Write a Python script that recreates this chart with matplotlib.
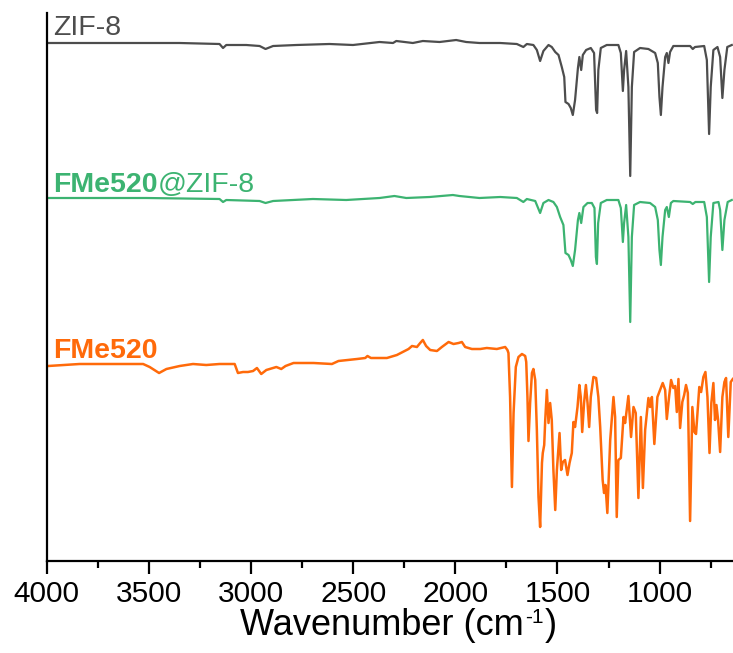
import matplotlib
matplotlib.use("Agg")
import matplotlib.pyplot as plt
from matplotlib.ticker import MultipleLocator

plt.rcParams['font.family'] = ['Liberation Sans', 'DejaVu Sans']

# ---------------- data ----------------
zif_wn = [3993, 3675, 3349, 3154, 3137, 3121, 3023, 2958, 2929, 2892, 2778, 2616, 2501,
          2371, 2305, 2289, 2208, 2159, 2077, 1996, 1947, 1882, 1780, 1699, 1667, 1650,
          1618, 1601, 1585, 1569, 1544, 1528, 1511, 1495, 1479, 1467, 1461, 1446, 1435,
          1425, 1414, 1400, 1393, 1384, 1376, 1360, 1337, 1321, 1311, 1306, 1300, 1288,
          1259, 1202, 1190, 1180, 1174, 1164, 1153, 1144, 1136, 1125, 1096, 1055, 1022,
          1009, 1001, 994, 986, 973, 965, 957, 949, 933, 851, 838, 827, 782, 769, 758,
          750, 737, 717, 704, 693, 683, 669, 647]
zif_t = [5.15, 5.15, 5.15, 5.14, 5.10, 5.13, 5.13, 5.12, 5.09, 5.12, 5.13, 5.14, 5.13,
         5.16, 5.15, 5.17, 5.15, 5.17, 5.16, 5.18, 5.16, 5.15, 5.15, 5.14, 5.11, 5.14,
         5.13, 5.08, 4.97, 5.07, 5.13, 5.11, 5.06, 5.03, 4.91, 4.81, 4.56, 4.54, 4.50,
         4.43, 4.58, 4.90, 5.01, 4.88, 5.03, 5.08, 5.10, 5.05, 4.48, 4.45, 4.88, 5.10,
         5.13, 5.13, 5.05, 4.67, 4.88, 5.07, 4.71, 3.82, 4.71, 5.06, 5.10, 5.09, 5.05,
         4.95, 4.61, 4.43, 4.71, 5.01, 5.05, 4.95, 5.06, 5.12, 5.12, 5.09, 5.11, 5.12,
         4.98, 4.24, 4.71, 5.08, 5.11, 5.01, 4.60, 4.88, 5.11, 5.13]

comp_wn = [3993, 3512, 3154, 3137, 3121, 2958, 2929, 2892, 2697, 2534, 2371, 2298, 2240,
           2126, 2012, 1980, 1882, 1780, 1699, 1667, 1650, 1609, 1585, 1569, 1544, 1520,
           1503, 1487, 1471, 1461, 1446, 1435, 1425, 1414, 1400, 1393, 1384, 1373, 1353,
           1332, 1319, 1312, 1307, 1301, 1288, 1259, 1202, 1190, 1180, 1174, 1164, 1153,
           1144, 1136, 1125, 1096, 1047, 1022, 1009, 1001, 994, 986, 973, 965, 955, 945,
           933, 851, 838, 825, 782, 769, 758, 750, 737, 712, 704, 693, 683, 667, 647]
comp_t = [3.60, 3.60, 3.59, 3.56, 3.58, 3.57, 3.55, 3.57, 3.59, 3.58, 3.60, 3.62, 3.60,
          3.61, 3.63, 3.62, 3.60, 3.61, 3.60, 3.56, 3.59, 3.57, 3.45, 3.55, 3.58, 3.56,
          3.51, 3.41, 3.33, 3.05, 3.03, 2.98, 2.92, 3.08, 3.38, 3.45, 3.35, 3.51, 3.55,
          3.55, 3.50, 3.01, 2.94, 3.35, 3.55, 3.58, 3.58, 3.50, 3.16, 3.35, 3.53, 3.21,
          2.36, 3.21, 3.53, 3.56, 3.55, 3.51, 3.38, 3.08, 2.93, 3.21, 3.48, 3.51, 3.41,
          3.55, 3.57, 3.56, 3.54, 3.56, 3.56, 3.41, 2.76, 3.21, 3.55, 3.56, 3.48, 3.08,
          3.38, 3.56, 3.58]

fme_wn = [3993, 3839, 3675, 3528, 3496, 3450, 3414, 3349, 3284, 3219, 3154, 3080, 3064,
          3039, 3015, 2990, 2971, 2950, 2925, 2876, 2852, 2831, 2792, 2694, 2604, 2572,
          2481, 2441, 2430, 2413, 2335, 2286, 2229, 2212, 2188, 2172, 2159, 2143, 2123,
          2090, 2066, 2033, 2009, 1984, 1968, 1952, 1919, 1878, 1846, 1797, 1756, 1745,
          1740, 1732, 1723, 1715, 1704, 1691, 1674, 1658, 1653, 1647, 1642, 1634, 1625,
          1618, 1609, 1601, 1593, 1585, 1576, 1572, 1565, 1560, 1552, 1544, 1536, 1528,
          1520, 1511, 1503, 1490, 1482, 1474, 1463, 1451, 1441, 1430, 1422, 1414, 1402,
          1393, 1386, 1379, 1370, 1361, 1353, 1345, 1337, 1324, 1311, 1300, 1291, 1279,
          1272, 1265, 1256, 1242, 1226, 1218, 1210, 1202, 1190, 1177, 1169, 1153, 1140,
          1128, 1117, 1104, 1092, 1082, 1071, 1055, 1047, 1038, 1026, 1011, 998, 985,
          973, 965, 954, 944, 933, 924, 916, 908, 900, 889, 880, 871, 862, 851, 840,
          830, 822, 813, 806, 797, 786, 776, 766, 756, 747, 737, 729, 722, 714, 704,
          693, 683, 675, 664, 652, 642]
fme_t = [1.92, 1.94, 1.94, 1.94, 1.91, 1.85, 1.89, 1.92, 1.94, 1.93, 1.94, 1.94, 1.85,
         1.86, 1.86, 1.87, 1.90, 1.84, 1.88, 1.91, 1.89, 1.92, 1.95, 1.95, 1.94, 1.97,
         1.99, 2.00, 2.02, 2.00, 2.00, 2.03, 2.09, 2.12, 2.11, 2.15, 2.18, 2.12, 2.08,
         2.07, 2.11, 2.16, 2.14, 2.15, 2.16, 2.11, 2.09, 2.09, 2.10, 2.09, 2.11, 2.08,
         2.05, 1.61, 0.71, 1.45, 1.91, 2.01, 2.04, 2.02, 1.96, 1.61, 1.17, 1.55, 1.85,
         1.89, 1.78, 1.28, 0.61, 0.31, 0.95, 1.05, 1.13, 1.38, 1.68, 1.35, 1.55, 1.38,
         0.88, 0.48, 0.88, 1.25, 0.88, 0.96, 0.98, 0.83, 0.95, 1.05, 1.36, 1.31, 1.51,
         1.73, 1.61, 1.26, 1.55, 1.73, 1.55, 1.31, 1.61, 1.81, 1.80, 1.61, 1.31, 0.78,
         0.65, 0.73, 0.45, 1.18, 1.61, 1.41, 0.41, 0.98, 1.00, 1.41, 1.35, 1.62, 1.21,
         1.51, 1.45, 0.60, 1.41, 0.70, 1.28, 1.60, 1.51, 1.61, 1.14, 1.61, 1.68, 1.75,
         1.68, 1.39, 1.61, 1.78, 1.70, 1.72, 1.46, 1.79, 1.30, 1.56, 1.63, 1.73, 1.65,
         0.37, 1.51, 1.26, 1.24, 1.50, 1.71, 1.66, 1.81, 1.86, 1.61, 1.05, 1.55, 1.75,
         1.38, 1.53, 1.38, 1.06, 1.61, 1.76, 1.80, 1.21, 1.76, 1.79]

labels = ["ZIF-8", "FMe520", "@ZIF-8", "FMe520"]
colors = {"zif": "#4d4d4d", "comp": "#3cb371", "fme": "#ff6a0a"}
xticks = [4000, 3500, 3000, 2500, 2000, 1500, 1000]

W, H = 733, 653

# ---------------- figure ----------------
fig = plt.figure(figsize=(W / 100, H / 100), dpi=100)
ax = fig.add_axes([46.7 / W, 1 - 561 / H, 1 - 46.7 / W, (561 - 13) / H])

ax.plot(zif_wn, zif_t, color=colors["zif"], lw=1.6)
ax.plot(comp_wn, comp_t, color=colors["comp"], lw=1.6)
ax.plot(fme_wn, fme_t, color=colors["fme"], lw=1.8)

ax.set_xlim(4000, 641)
ax.set_ylim(-0.03, 5.45)

ax.spines['top'].set_visible(False)
ax.spines['right'].set_visible(False)
ax.spines['left'].set_linewidth(1.6)
ax.spines['bottom'].set_linewidth(1.6)
ax.set_yticks([])
ax.set_xticks(xticks)
ax.set_xticklabels([str(v) for v in xticks])
ax.xaxis.set_minor_locator(MultipleLocator(250))
ax.tick_params(axis='x', which='major', length=9, width=1.6, labelsize=21.5, pad=5)
ax.tick_params(axis='x', which='minor', length=5, width=1.6)

# x-axis label built from pieces so the superscript uses a plain hyphen
fs_lab = 26
base_y = 1 - 635 / H
t_a = fig.text(240.5 / W, base_y, "Wavenumber (cm", fontsize=fs_lab, va='baseline')
fig.canvas.draw()
r = fig.canvas.get_renderer()
bb = t_a.get_window_extent(r)
t_s = fig.text(bb.x1 / W + 1 / W, base_y + 12 / H, "-1", fontsize=15, va='baseline')
bb2 = t_s.get_window_extent(r)
fig.text(bb2.x1 / W + 1 / W, base_y, ")", fontsize=fs_lab, va='baseline')

# series labels
fs_ser = 20.5
ax.text(3969, 5.23, labels[0], color=colors["zif"], fontsize=fs_ser, va='baseline')
t1 = ax.text(3969, 3.66, labels[1], color=colors["comp"], fontsize=fs_ser,
             fontweight='bold', va='baseline')
ax.annotate(labels[2], xy=(1, 0), xycoords=t1, color=colors["comp"], fontsize=fs_ser,
            va='bottom', ha='left')
ax.text(3969, 2.00, labels[3], color=colors["fme"], fontsize=fs_ser,
        fontweight='bold', va='baseline')

fig.savefig("out.png", dpi=100)
